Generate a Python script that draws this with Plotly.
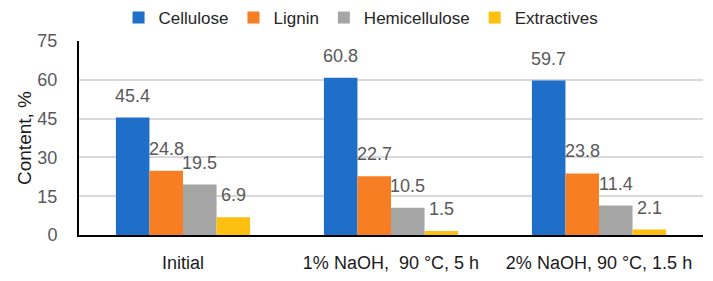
import plotly.graph_objects as go

categories = ["Initial", "1% NaOH,  90 °C, 5 h", "2% NaOH, 90 °C, 1.5 h"]
series_names = ["Cellulose", "Lignin", "Hemicellulose", "Extractives"]
cellulose = [45.4, 60.8, 59.7]
lignin = [24.8, 22.7, 23.8]
hemicellulose = [19.5, 10.5, 11.4]
extractives = [6.9, 1.5, 2.1]
colors = ["#1f6fc9", "#f77e22", "#a5a5a5", "#fdc010"]
y_ticks = [0, 15, 30, 45, 60, 75]

values = [cellulose, lignin, hemicellulose, extractives]
bargap = 0.355
n = len(values)
w = (1 - bargap) / n

fig = go.Figure()
for i, (name, vals, col) in enumerate(zip(series_names, values, colors)):
    fig.add_trace(go.Bar(x=list(range(len(categories))), y=vals, name=name,
                         marker=dict(color=col, line=dict(width=0))))

annotations = []
for i, vals in enumerate(values):
    off = -(1 - bargap) / 2 + (i + 0.5) * w
    for j, v in enumerate(vals):
        annotations.append(dict(x=j + off, y=v, xref="x", yref="y", text=f"{v}",
                                showarrow=False, yshift=22,
                                font=dict(family="Liberation Sans, Arial", size=18, color="#595959")))

fig.update_layout(
    width=713, height=281,
    margin=dict(l=79, r=10, t=41, b=46),
    paper_bgcolor="white", plot_bgcolor="white",
    barmode="group", bargap=bargap, bargroupgap=0,
    annotations=annotations,
    showlegend=True,
    legend=dict(orientation="h", x=0.452, xanchor="center", y=1.0, yref="container", yanchor="top",
                font=dict(family="Liberation Sans, Arial", size=17, color="#262626"),
                itemwidth=30, tracegroupgap=0, bgcolor="rgba(0,0,0,0)"),
    xaxis=dict(tickmode="array", tickvals=list(range(len(categories))), ticktext=categories,
               range=[-0.5, 2.5], showline=True, linecolor="black", linewidth=2, ticks="",
               ticklabelstandoff=10, automargin=False,
               tickfont=dict(family="Liberation Sans, Arial", size=18, color="#1a1a1a"),
               showgrid=False, zeroline=False),
    yaxis=dict(range=[0, 75], tickvals=y_ticks, showline=True, linecolor="black", linewidth=2,
               gridcolor="#d9d9d9", gridwidth=1.5, zeroline=False, ticks="",
               ticklabelstandoff=16, automargin=False,
               tickfont=dict(family="Liberation Sans, Arial", size=18, color="#595959"),
               title=dict(text="Content, %", font=dict(family="Liberation Sans, Arial", size=19, color="#1a1a1a"), standoff=1)),
)

fig.write_html("out.html")
